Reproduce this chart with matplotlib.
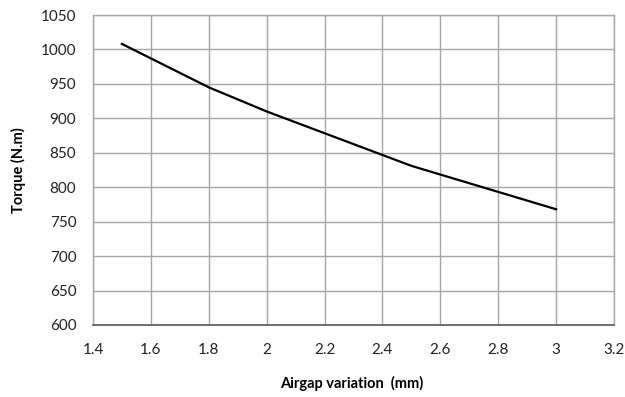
import matplotlib
matplotlib.use("Agg")
import matplotlib.pyplot as plt

airgap_mm = [1.5, 1.8, 2.0, 2.5, 3.0]
torque_nm = [1008, 945, 910, 831, 768]

x_ticks = [1.4, 1.6, 1.8, 2.0, 2.2, 2.4, 2.6, 2.8, 3.0, 3.2]
x_tick_labels = ["1.4", "1.6", "1.8", "2", "2.2", "2.4", "2.6", "2.8", "3", "3.2"]
y_ticks = [600, 650, 700, 750, 800, 850, 900, 950, 1000, 1050]

plt.rcParams["font.family"] = ["Lato", "DejaVu Sans"]

W, H = 625, 397
fig = plt.figure(figsize=(W / 100, H / 100), dpi=100)
ax = fig.add_axes([0.1488, 0.1814, 0.8336, 0.7808])

ax.plot(airgap_mm, torque_nm, color="black", linewidth=1.6, zorder=3)

ax.set_xlim(1.4, 3.2)
ax.set_ylim(600, 1050)
ax.set_xticks(x_ticks)
ax.set_xticklabels(x_tick_labels)
ax.set_yticks(y_ticks)

ax.grid(True, color="#a6a6a6", linewidth=1.0)
ax.set_axisbelow(True)
ax.tick_params(axis="both", length=0, labelsize=11, colors="#222222")
ax.tick_params(axis="x", pad=13)
ax.tick_params(axis="y", pad=12)

for side in ["top", "right", "left"]:
    ax.spines[side].set_color("#a6a6a6")
    ax.spines[side].set_linewidth(1.0)
ax.spines["bottom"].set_color("#595959")
ax.spines["bottom"].set_linewidth(1.2)

fig.text(352 / W, 1 - 383 / H, "Airgap variation  (mm)", fontsize=10.5,
         fontweight="bold", ha="center", va="center")
fig.text(18 / W, 1 - 170 / H, "Torque (N.m)", fontsize=10.5,
         fontweight="bold", ha="center", va="center", rotation=90)

fig.savefig("out.png", dpi=100)
